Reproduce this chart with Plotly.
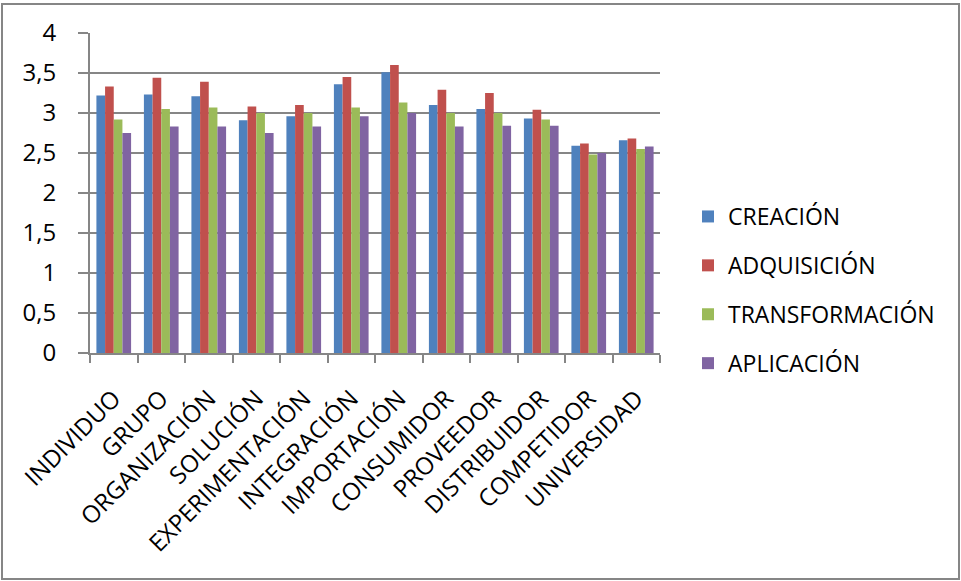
import plotly.graph_objects as go

categories = ["INDIVIDUO", "GRUPO", "ORGANIZACIÓN", "SOLUCIÓN", "EXPERIMENTACIÓN",
              "INTEGRACIÓN", "IMPORTACIÓN", "CONSUMIDOR", "PROVEEDOR",
              "DISTRIBUIDOR", "COMPETIDOR", "UNIVERSIDAD"]
creacion = [3.22, 3.23, 3.21, 2.91, 2.96, 3.36, 3.51, 3.10, 3.05, 2.93, 2.59, 2.66]
adquisicion = [3.33, 3.44, 3.39, 3.08, 3.10, 3.45, 3.60, 3.29, 3.25, 3.04, 2.62, 2.68]
transformacion = [2.92, 3.05, 3.07, 3.00, 3.00, 3.07, 3.13, 3.00, 3.00, 2.92, 2.48, 2.55]
aplicacion = [2.75, 2.83, 2.83, 2.75, 2.83, 2.96, 3.00, 2.83, 2.84, 2.84, 2.50, 2.58]
y_ticks = [0, 0.5, 1, 1.5, 2, 2.5, 3, 3.5, 4]

series = [
    ("CREACIÓN", creacion, "#4F81BD"),
    ("ADQUISICIÓN", adquisicion, "#C0504D"),
    ("TRANSFORMACIÓN", transformacion, "#9BBB59"),
    ("APLICACIÓN", aplicacion, "#8064A2"),
]

FONT = "Open Sans"
GRID = "#868686"

fig = go.Figure()
for name, vals, color in series:
    fig.add_trace(go.Bar(
        x=categories, y=vals, name=name, legendgroup=name,
        marker=dict(color=color, line=dict(width=0)),
    ))

W, H = 961, 581
L, R, T, B = 90, 301, 33, 228
pw, ph = W - L - R, H - T - B

fig.update_layout(
    width=W, height=H,
    margin=dict(l=L, r=R, t=T, b=B),
    paper_bgcolor="white", plot_bgcolor="white",
    barmode="group", bargap=0.27, bargroupgap=0,
    separators=",.",
    font=dict(family=FONT, size=23, color="black"),
    legend=dict(
        x=(688 - L) / pw, xanchor="left",
        y=(T + ph - 290) / ph, yanchor="middle",
        font=dict(family=FONT, size=23, color="black"),
        tracegroupgap=16, itemwidth=30,
        bgcolor="rgba(0,0,0,0)",
    ),
    showlegend=True,
)
fig.update_xaxes(
    type="category", tickangle=-45, tickson="boundaries",
    ticks="outside", ticklen=8, tickwidth=2, tickcolor=GRID,
    showline=True, linecolor=GRID, linewidth=2,
    showgrid=False, ticklabelstandoff=20,
    tickfont=dict(family=FONT, size=24, color="black"),
)
fig.update_yaxes(
    range=[0, 4], tickvals=y_ticks,
    ticks="outside", ticklen=10, tickwidth=2, tickcolor=GRID,
    showline=True, linecolor=GRID, linewidth=2,
    showgrid=True, gridcolor=GRID, gridwidth=2,
    zeroline=False, ticklabelstandoff=17,
    tickfont=dict(family=FONT, size=24, color="black"),
)

# outer chart frame
fig.add_shape(
    type="rect", xref="paper", yref="paper",
    x0=(2 - L) / pw, x1=(959 - L) / pw,
    y0=(T + ph - 579) / ph, y1=(T + ph - 4) / ph,
    line=dict(color=GRID, width=2), fillcolor="rgba(0,0,0,0)",
    layer="below",
)

fig.write_html("out.html")
